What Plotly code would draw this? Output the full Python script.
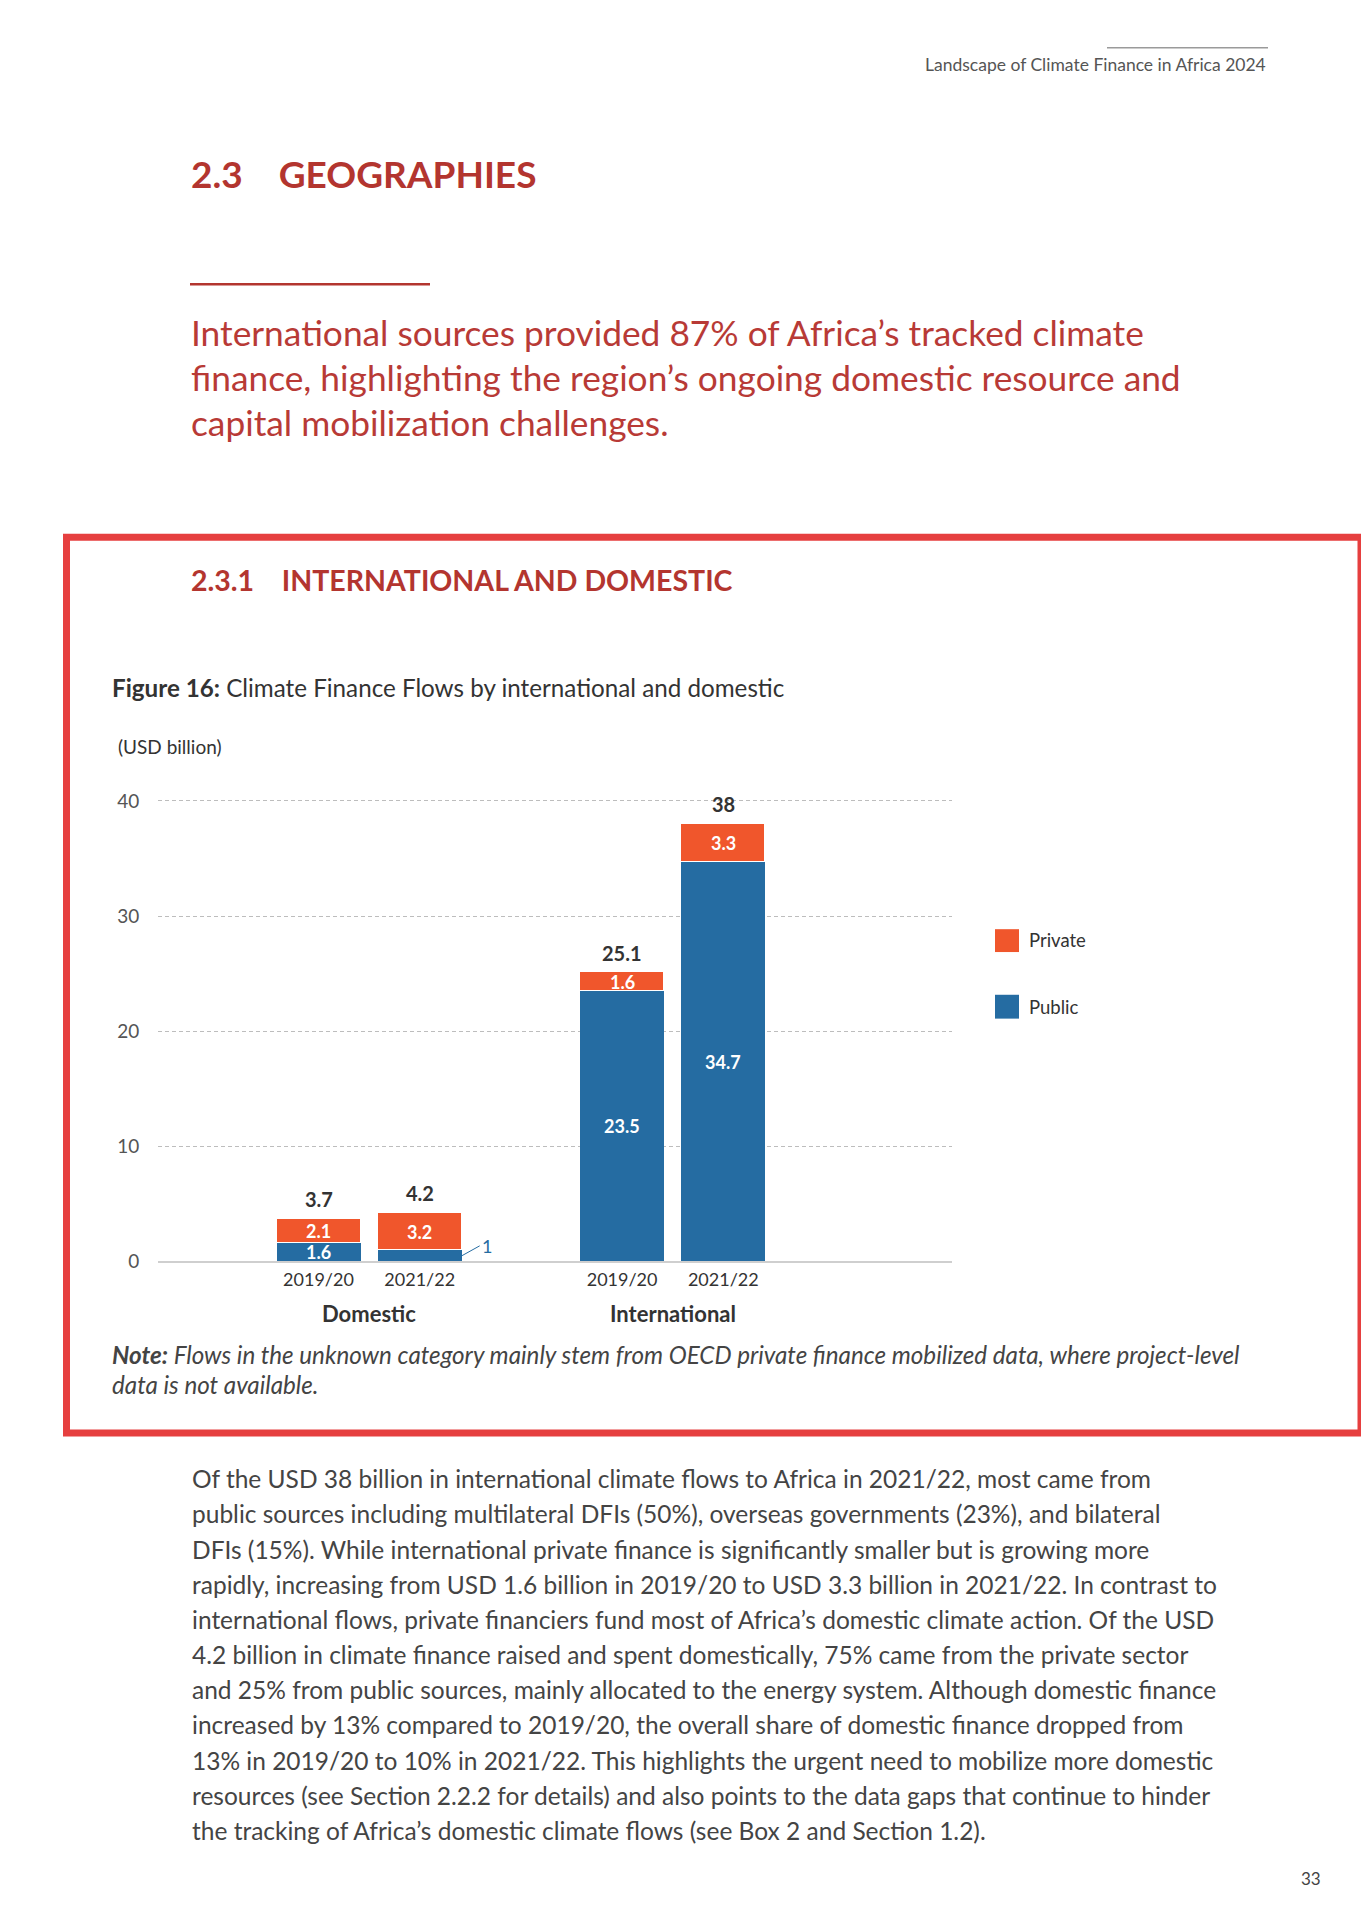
import plotly.graph_objects as go

# ---------------- data ----------------
groups = ["Domestic", "International"]
periods = ["2019/20", "2021/22"]
public_vals = [1.6, 1.0, 23.5, 34.7]     # Domestic 19/20, 21/22, International 19/20, 21/22
private_vals = [2.1, 3.2, 1.6, 3.3]
total_labels = ["3.7", "4.2", "25.1", "38"]
public_labels = ["1.6", "1", "23.5", "34.7"]
private_labels = ["2.1", "3.2", "1.6", "3.3"]
y_ticks = [0, 10, 20, 30, 40]

# the page body has an 8px margin: size the figure to fit inside the window
PAGE_W, PAGE_H, M = 1369, 1927, 8
W, H = PAGE_W - 2 * M, PAGE_H - 2 * M
def X(px): return (px - M) / W
def Y(py): return 1 - (py - M) / H

FONT = "Lato"
RED = "#b3352f"
BOX = "#e63f3f"
ORANGE = "#f0562c"
BLUE = "#256ca2"
TXT = "#333333"
BODY = "#444444"

# slot positions derived from group/period indexes (spacer slot between groups)
xpos = [g * (len(periods) + 1) + p for g in range(len(groups)) for p in range(len(periods))]
cat_text = [p for g in groups for p in periods]
BW = 0.83

fig = go.Figure()
fig.add_trace(go.Bar(x=xpos, y=public_vals, name="Public", marker=dict(color=BLUE, line=dict(width=0)),
                     width=BW, showlegend=False, hoverinfo="skip"))
fig.add_trace(go.Bar(x=xpos, y=private_vals, name="Private",
                     marker=dict(color=ORANGE, line=dict(color="white", width=1.5)),
                     width=BW, showlegend=False, hoverinfo="skip"))

ann = []
for i, xp in enumerate(xpos):
    pub, prv = public_vals[i], private_vals[i]
    tot = pub + prv
    ann.append(dict(x=xp, y=tot, xref="x", yref="y", text=f"<b>{total_labels[i]}</b>", showarrow=False,
                    yanchor="bottom", yshift=6, font=dict(family=FONT, size=20, color=TXT)))
    ann.append(dict(x=xp, y=pub + prv / 2, xref="x", yref="y", text=f"<b>{private_labels[i]}</b>",
                    showarrow=False, yanchor="middle", font=dict(family=FONT, size=18, color="white")))
    if pub >= 1.5:
        ann.append(dict(x=xp, y=pub / 2, xref="x", yref="y", text=f"<b>{public_labels[i]}</b>",
                        showarrow=False, yanchor="middle", font=dict(family=FONT, size=18, color="white")))
    else:
        ann.append(dict(x=xp + BW / 2, y=pub / 2, xref="x", yref="y", text=public_labels[i],
                        showarrow=True, arrowhead=0, arrowwidth=1, arrowcolor=BLUE, ax=18, ay=-10,
                        xanchor="left", font=dict(family=FONT, size=18, color=BLUE)))

# group labels
for g, name in enumerate(groups):
    idx = [xpos[g * len(periods) + p] for p in range(len(periods))]
    ann.append(dict(x=sum(idx) / len(idx), y=Y(1321), xref="x", yref="paper", text=f"<b>{name}</b>",
                    showarrow=False, yanchor="middle", font=dict(family=FONT, size=22, color=TXT)))

def txt(px, py, s, size, color, anchor="left", family=FONT):
    ann.append(dict(x=X(px), y=Y(py), xref="paper", yref="paper", text=s, showarrow=False,
                    xanchor=anchor, yanchor="middle", font=dict(family=family, size=size, color=color)))

# page texts
txt(1268, 64, "Landscape of Climate Finance in Africa 2024", 17.5, "#555555", anchor="right")
txt(189, 174, "<b>2.3    GEOGRAPHIES</b>", 37, RED)
quote = ["International sources provided 87% of Africa’s tracked climate",
         "finance, highlighting the region’s ongoing domestic resource and",
         "capital mobilization challenges."]
for i, line in enumerate(quote):
    txt(189, 334 + 45 * i, line, 35.3, "#b83a36")
txt(189, 583, "<b>2.3.1    INTERNATIONAL AND DOMESTIC</b>", 28.5, RED)
txt(110, 691, "<b>Figure 16:</b> Climate Finance Flows by international and domestic", 24.2, TXT)
txt(116, 750, "(USD billion)", 19, TXT)
txt(110, 1362, "<b><i>Note:</i></b><i> Flows in the unknown category mainly stem from OECD private finance mobilized data, where project-level</i>", 24.2, BODY)
txt(110, 1392, "<i>data is not available.</i>", 24.2, BODY)

# legend
txt(1027, 945, "Private", 18.5, TXT)
txt(1027, 1012, "Public", 18.5, TXT)

body = ["Of the USD 38 billion in international climate flows to Africa in 2021/22, most came from",
        "public sources including multilateral DFIs (50%), overseas governments (23%), and bilateral",
        "DFIs (15%). While international private finance is significantly smaller but is growing more",
        "rapidly, increasing from USD 1.6 billion in 2019/20 to USD 3.3 billion in 2021/22. In contrast to",
        "international flows, private financiers fund most of Africa’s domestic climate action. Of the USD",
        "4.2 billion in climate finance raised and spent domestically, 75% came from the private sector",
        "and 25% from public sources, mainly allocated to the energy system. Although domestic finance",
        "increased by 13% compared to 2019/20, the overall share of domestic finance dropped from",
        "13% in 2019/20 to 10% in 2021/22. This highlights the urgent need to mobilize more domestic",
        "resources (see Section 2.2.2 for details) and also points to the data gaps that continue to hinder",
        "the tracking of Africa’s domestic climate flows (see Box 2 and Section 1.2)."]
for i, line in enumerate(body):
    txt(190, 1487 + 35.4 * i, line, 24.5, BODY)
txt(1311, 1889, "33", 17, "#444444", anchor="center")

shapes = [
    dict(type="line", xref="paper", yref="paper", x0=X(1107), x1=X(1268), y0=Y(47), y1=Y(47),
         line=dict(color="#9a9a9a", width=1.5)),
    dict(type="line", xref="paper", yref="paper", x0=X(190), x1=X(430), y0=Y(285), y1=Y(285),
         line=dict(color=RED, width=2.5)),
    dict(type="rect", xref="paper", yref="paper", x0=X(66.5), x1=X(1361), y0=Y(539.5), y1=Y(1441),
         line=dict(color=BOX, width=7)),
    dict(type="rect", xref="paper", yref="paper", x0=X(995), x1=X(1019), y0=Y(934), y1=Y(957),
         fillcolor=ORANGE, line=dict(width=0)),
    dict(type="rect", xref="paper", yref="paper", x0=X(995), x1=X(1019), y0=Y(1000), y1=Y(1024),
         fillcolor=BLUE, line=dict(width=0)),
]

slot = 101.2
x0_px = 318.5
y_top = 41  # a little headroom so the 40 gridline is drawn
zero_px, forty_px = 1268.5, 805
px_per_unit = (zero_px - forty_px) / 40
fig.update_layout(
    width=W, height=H, margin=dict(l=0, r=0, t=0, b=0),
    paper_bgcolor="white", plot_bgcolor="white",
    barmode="stack", bargap=0,
    showlegend=False,
    annotations=ann, shapes=shapes,
    xaxis=dict(domain=[X(158), X(952)], range=[(158 - x0_px) / slot, (952 - x0_px) / slot],
               tickmode="array", tickvals=xpos, ticktext=cat_text,
               tickfont=dict(family=FONT, size=18, color=TXT), ticklabelstandoff=5,
               showgrid=False, zeroline=False, showline=False, ticks=""),
    yaxis=dict(domain=[Y(zero_px), Y(zero_px - y_top * px_per_unit)], range=[0, y_top], tickvals=y_ticks,
               tickfont=dict(family=FONT, size=19, color="#555555"),
               showgrid=True, gridcolor="#bdbdbd", gridwidth=1, griddash="4px,3px",
               zeroline=True, zerolinecolor="#cfcfcf", zerolinewidth=2,
               ticks="outside", ticklen=14, tickcolor="white", showline=False),
)
fig.write_html("out.html")
